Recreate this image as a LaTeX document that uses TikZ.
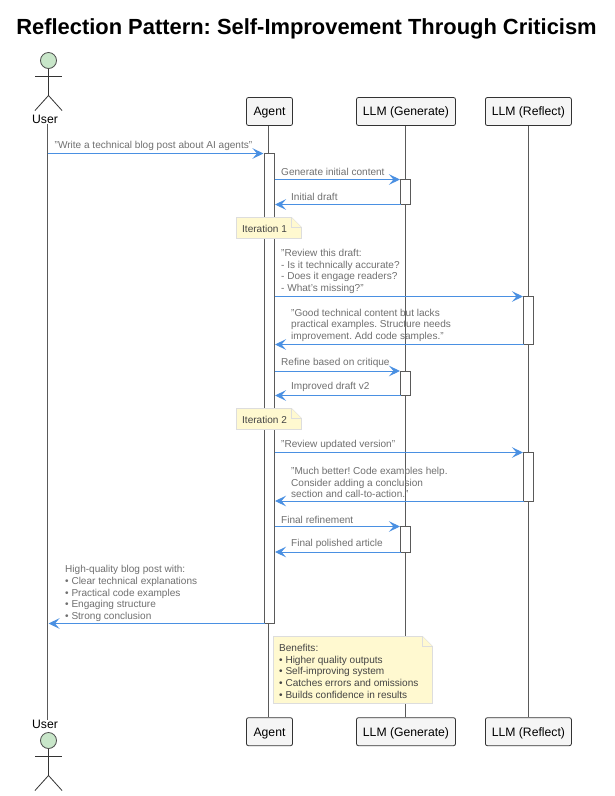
\documentclass[tikz,border=0pt]{standalone}
\usepackage{fontspec}
\setmainfont{Liberation Sans}[Ligatures=ResetAll]
\frenchspacing
\usetikzlibrary{arrows.meta}
\definecolor{arrowblue}{HTML}{4A90E2}
\definecolor{lifegray}{HTML}{5A5A5A}
\definecolor{labelgray}{HTML}{707070}
\definecolor{notefill}{HTML}{FFF9D0}
\definecolor{noteline}{HTML}{DDDDDD}
\definecolor{notetext}{HTML}{444444}
\definecolor{actorfill}{HTML}{C8E6C9}
\definecolor{boxfill}{HTML}{F5F5F5}
\tikzset{
  participant/.style={draw=black!80,fill=boxfill,rounded corners=2pt,line width=.8pt,inner sep=0pt,minimum height=28pt,text height=8.7pt,text depth=0pt,font=\fontsize{12.2}{14}\selectfont},
  lifeline/.style={draw=lifegray,line width=.9pt},
  actbox/.style={draw=lifegray,fill=white,line width=.9pt,inner sep=0pt,minimum width=10pt},
  msgline/.style={draw=arrowblue,line width=.9pt,-{Stealth[length=11pt,width=10.5pt,inset=4.5pt]}},
  msglabel/.style={anchor=south west,inner sep=0pt,align=left,text=labelgray,font=\fontsize{10.05}{11.65}\selectfont},
  notetxt/.style={anchor=north west,inner sep=0pt,align=left,text=notetext,font=\fontsize{10.05}{11.65}\selectfont},
  notebody/.style={draw=noteline,fill=notefill,line width=.9pt},
  actorline/.style={draw=black!80,line width=.8pt},
  actorhead/.style={circle,draw=black!70,fill=actorfill,line width=.8pt,minimum size=16pt,inner sep=0pt},
  actorname/.style={inner sep=0pt,font=\fontsize{12.2}{14}\selectfont}
}
\newcommand{\seqmsg}[4]{%
  \coordinate (#1a) at (#2,#4);
  \coordinate (#1b) at (#3,#4);
  \draw[msgline] (#1a) -- (#1b);}
\newcommand{\notebox}[6]{% name x1 y1 x2 y2 unused
  \coordinate (#1nw) at (#2,#3);
  \coordinate (#1se) at (#4,#5);
  \path[notebody] (#1nw) -- (#4-10,#3) -- (#4,#3+10) -- (#1se) -- (#2,#5) -- cycle;
  \path[notebody] (#4-10,#3) -- (#4-10,#3+10) -- (#4,#3+10);}
\begin{document}
\begin{tikzpicture}[x=1pt,y=-1pt]
\useasboundingbox[fill=white] (0,0) rectangle (615,796);
\node[inner sep=0pt,font=\bfseries\fontsize{21.9}{24}\selectfont] (title) at (306.5,29) {Reflection Pattern: Self-Improvement Through Criticism};
% participants
\node[actorname] (userTop) at (45,119.5) {User};
\node[participant,minimum width=46pt] (agentTop) at (269.5,111.5) {Agent};
\node[participant,minimum width=99pt] (genTop) at (406,111.5) {LLM (Generate)};
\node[participant,minimum width=86pt] (refTop) at (528.4,111.5) {LLM (Reflect)};
\node[actorname] (userBot) at (45,724.5) {User};
\node[participant,minimum width=46pt] (agentBot) at (269.5,731.7) {Agent};
\node[participant,minimum width=99pt] (genBot) at (406,731.7) {LLM (Generate)};
\node[participant,minimum width=86pt] (refBot) at (528.4,731.7) {LLM (Reflect)};
% actors
\node[actorhead] (headTop) at (48.5,60.5) {};
\draw[actorline] (headTop.south) -- (48.5,95.5);
\draw[actorline] (35,76) -- (62,76);
\draw[actorline] (35,110.5) -- (48.5,95.5) -- (62,110.5);
\node[actorhead] (headBot) at (48.5,740.5) {};
\draw[actorline] (headBot.south) -- (48.5,775.5);
\draw[actorline] (35,756) -- (62,756);
\draw[actorline] (35,790.5) -- (48.5,775.5) -- (62,790.5);
% lifelines
\draw[lifeline] ([xshift=2.5pt]userTop.south) -- ([xshift=2.5pt]userBot.north);
\draw[lifeline] ([xshift=-1pt]agentTop.south) -- ([xshift=-1pt]agentBot.north);
\draw[lifeline] ([xshift=-.5pt]genTop.south) -- ([xshift=-.5pt]genBot.north);
\draw[lifeline] (refTop.south) -- (refBot.north);
% activations
\node[actbox,minimum height=470pt] (actAgent) at (269.5,388.5) {};
\node[actbox,minimum height=25pt] (actGenA) at (405.8,192) {};
\node[actbox,minimum height=48pt] (actRefA) at (528.4,320.5) {};
\node[actbox,minimum height=24.5pt] (actGenB) at (405.8,383.2) {};
\node[actbox,minimum height=48.5pt] (actRefB) at (528.4,476.7) {};
\node[actbox,minimum height=25.5pt] (actGenC) at (405.8,539.2) {};
% notes
\notebox{iterA}{236.5}{217.5}{301.5}{238.5}{}
\node[notetxt] (iterAtxt) at (242,225) {Iteration 1};
\notebox{iterB}{236.5}{408.5}{301.5}{429.5}{}
\node[notetxt] (iterBtxt) at (242,416) {Iteration 2};
\notebox{ben}{273.5}{636.5}{432.5}{703.5}{}
\node[notetxt] (bentxt) at (279,644.2) {Benefits:\\• Higher quality outputs\\• Self-improving system\\• Catches errors and omissions\\• Builds confidence in results};
% messages
\seqmsg{m1}{47.5}{263.5}{153.5}
\node[msglabel] (l1) at (54.5,150.6) {"Write a technical blog post about AI agents"};
\seqmsg{m2}{274.5}{400}{179.5}
\node[msglabel] (l2) at (281,175.9) {Generate initial content};
\seqmsg{m3}{400.5}{275}{204.5}
\node[msglabel] (l3) at (291,200.9) {Initial draft};
\seqmsg{m4}{274.5}{523}{296.5}
\node[msglabel] (l4) at (281,293.8) {"Review this draft:\\- Is it technically accurate?\\- Does it engage readers?\\- What's missing?"};
\seqmsg{m5}{523.5}{275}{344.5}
\node[msglabel] (l5) at (291,341.6) {"Good technical content but lacks\\practical examples. Structure needs\\improvement. Add code samples."};
\seqmsg{m6}{274.5}{400}{371}
\node[msglabel] (l6) at (281,367.9) {Refine based on critique};
\seqmsg{m7}{400.5}{275}{395.5}
\node[msglabel] (l7) at (291,391.9) {Improved draft v2};
\seqmsg{m8}{274.5}{523}{452.5}
\node[msglabel] (l8) at (281,449.6) {"Review updated version"};
\seqmsg{m9}{523.5}{275}{501}
\node[msglabel] (l9) at (291,498) {"Much better! Code examples help.\\Consider adding a conclusion\\section and call-to-action."};
\seqmsg{m10}{274.5}{400}{526.5}
\node[msglabel] (l10) at (281,523.4) {Final refinement};
\seqmsg{m11}{400.5}{275}{552}
\node[msglabel] (l11) at (291,548.9) {Final polished article};
\seqmsg{m12}{264.5}{48.5}{623.5}
\node[msglabel] (l12) at (65,621.6) {High-quality blog post with:\\• Clear technical explanations\\• Practical code examples\\• Engaging structure\\• Strong conclusion};
\end{tikzpicture}
\end{document}
